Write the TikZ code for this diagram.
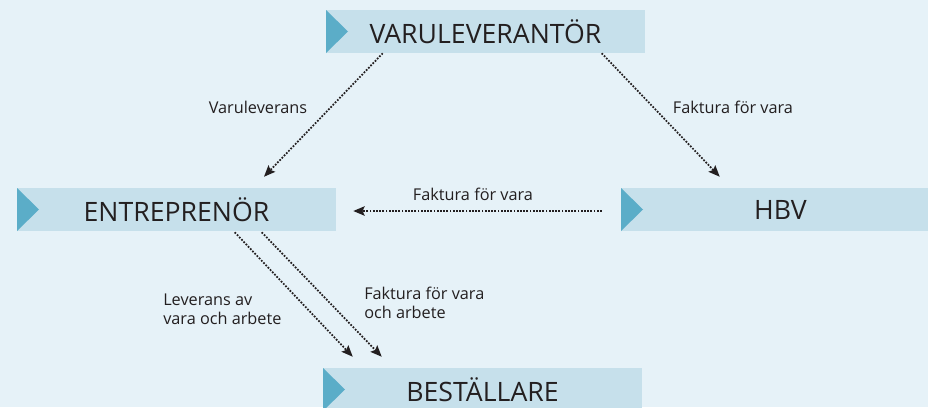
\documentclass[tikz,border=0pt]{standalone}
\usepackage{fontspec}
\setmainfont{Open Sans}
\usepackage{xcolor}
\usetikzlibrary{calc}
\usetikzlibrary{positioning, arrows.meta}

\definecolor{bgblue}{RGB}{230,242,248}
\definecolor{boxblue}{RGB}{198,224,235}
\definecolor{triblue}{RGB}{91,173,200}
\definecolor{textgray}{RGB}{35,31,32}

\begin{document}
\begin{tikzpicture}[
		x=0.75pt, y=-0.75pt,
		% Styles
		box/.style={rectangle, fill=boxblue, text=textgray, minimum width=239.25pt, minimum height=32.25pt, inner sep=0pt, font=\fontsize{20}{24}\selectfont,
			path picture={\fill[triblue] (path picture bounding box.north west) -- (path picture bounding box.south west) -- ([xshift=16.5pt]path picture bounding box.west) -- cycle;}},
		flowlabel/.style={text=textgray, font=\fontsize{12.2}{14.3}\selectfont, inner sep=0pt},
		arrow/.style={-{Stealth[length=8.5pt,width=7pt,inset=1.5pt]}, line width=1.3pt, dash pattern=on 1.3pt off 1.1pt, draw=textgray}
	]

	\fill[bgblue] (0,0) rectangle (928,407);
	\useasboundingbox (0,0) rectangle (928,407);

	% --- Parties ---
	\node[box] (varu) at (485.5,31.5) {VARULEVERANTÖR};
	\node[box] (entre) at (176.5,209.5) {ENTREPRENÖR};
	\node[box] (hbv) at (780.5,209.5) {HBV};
	\node[box] (best) at (482.5,389.5) {BESTÄLLARE};

	% --- Labels ---
	\node[flowlabel] (lbl_varulev) at (258,107) {Varuleverans};
	\node[flowlabel] (lbl_fakt_hbv) at (733,107) {Faktura för vara};
	\node[flowlabel] (lbl_fakt_entre) at (473,194) {Faktura för vara};
	\node[flowlabel, align=left, anchor=west] (lbl_leverans) at (163,309) {Leverans av\\vara och arbete};
	\node[flowlabel, align=left, anchor=west] (lbl_fakt_best) at (364,302.5) {Faktura för vara\\och arbete};

	% --- ARROWS ---
	\draw[arrow] ($(varu.south west)+(57,0)$) -- ($(entre.north)+(87.5,-11)$);
	\draw[arrow] ($(varu.south west)+(276,0)$) -- ($(hbv.north west)+(99,-11)$);
	\draw[arrow] ($(hbv.west)+(-19,1.5)$) -- ($(entre.east)+(17,1.5)$);

	% Entreprenör to beställare
	\draw[arrow] ($(entre.south west)+(218,1)$) -- ($(best.north west)+(30,-11)$);
	\draw[arrow] ($(entre.south west)+(245,1)$) -- ($(best.north west)+(59,-11)$);

\end{tikzpicture}
\end{document}
